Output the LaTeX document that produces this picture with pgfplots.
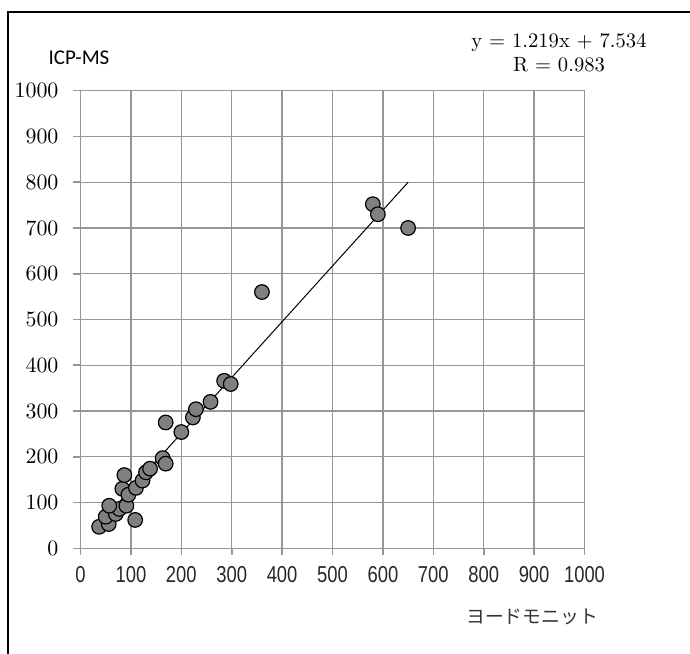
\documentclass[border=0pt]{standalone}
\usepackage{fontspec}
\usepackage{graphicx}
\usepackage{pgfplots}
\pgfplotsset{compat=1.18}
\newfontfamily\ticksans{Liberation Sans}
\newfontfamily\labsans{Carlito}
\newfontfamily\cjk{Noto Sans CJK JP}
\definecolor{gridgray}{RGB}{150,150,150}
\definecolor{markgray}{RGB}{128,128,128}
\begin{document}
\begin{tikzpicture}
\path[use as bounding box] (0,0) rectangle (345pt,326.5pt);
\draw[line width=1pt] (4pt,-2pt) -- (4pt,320.5pt) -- (347pt,320.5pt);
\begin{axis}[
  at={(40.25pt,52.35pt)}, anchor=south west,
  scale only axis, width=252pt, height=228.8pt,
  xmin=0, xmax=1000, ymin=0, ymax=1000,
  xtick={0,100,...,1000}, ytick={0,100,...,1000},
  /pgf/number format/1000 sep={},
  grid=major,
  major grid style={gridgray, line width=0.7pt},
  axis line style={gridgray, line width=0.8pt},
  axis x line*=bottom, axis y line*=left,
  tick style={gridgray, line width=0.8pt},
  tick align=outside, major tick length=3.5pt,
  xticklabel={\scalebox{0.8}[1]{\ticksans\fontsize{11.5pt}{12pt}\selectfont\pgfmathprintnumber[assume math mode=true]{\tick}}},
  yticklabel={\fontsize{10.8pt}{12pt}\selectfont$\pgfmathprintnumber{\tick}$},
  xticklabel style={yshift=-2pt, text=black!85},
  yticklabel style={xshift=-4pt},
  clip=false,
]
\addplot[black, line width=0.5pt] coordinates {(37,52.6) (650,799.9)};
\addplot[only marks, mark=*, mark size=3.65pt,
  mark options={fill=markgray, draw=black, line width=0.6pt}] coordinates {
(37,47) (56,53) (50,69) (70,75) (77,86) (57,93) (91,93) (108.5,62)
(83,130) (87,160) (95,117) (110,132) (123,148) (130,166) (138,174)
(163,197) (169,185) (169,275) (200,254) (223,286) (229,304) (258,320)
(285,366) (298,359) (360,560) (580,752) (590,730) (650,700)
};
\end{axis}
\node[font=\labsans\fontsize{10.5pt}{12pt}\selectfont] at (39.5pt,297.5pt) {ICP-MS};
\node[font=\fontsize{10.3pt}{12pt}\selectfont, align=center] at (279.5pt,300pt) {y = 1.219x + 7.534\\R = 0.983};
\node[font=\cjk\fontsize{9.4pt}{10pt}\selectfont, text=black!80] at (266pt,18pt) {ヨードモニット};
\end{tikzpicture}
\end{document}
